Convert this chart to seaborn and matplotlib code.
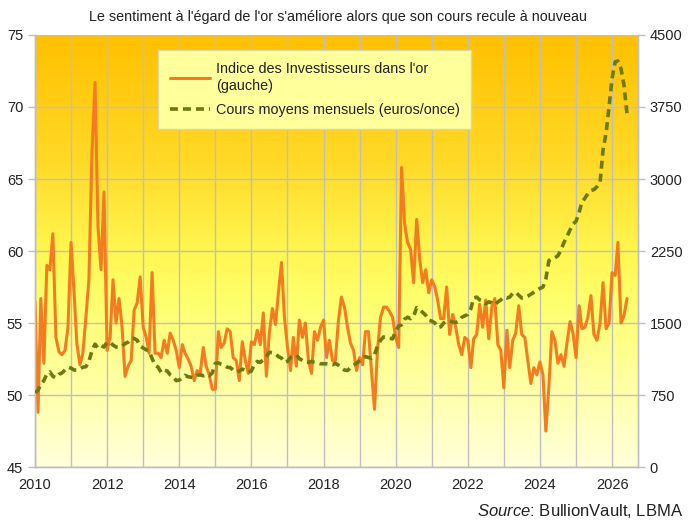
"""
Indice des investisseurs dans l'or vs cours moyen mensuel (EUR/oz), 2010-2026.
"""
import matplotlib
matplotlib.use('Agg')
import matplotlib.pyplot as plt
import matplotlib.dates as mdates
from matplotlib.colors import LinearSegmentedColormap
import numpy as np
import pandas as pd
import seaborn as sns

title = "Le sentiment à l'égard de l'or s'améliore alors que son cours recule à nouveau"
label_index = "Indice des Investisseurs dans l'or\n(gauche)"
label_price = "Cours moyens mensuels (euros/once)"
source = r"$\mathit{Source}$: BullionVault, LBMA"

start_month = '2010-01-01'

# indice mensuel (axe gauche)
sentiment = [
	56.5, 48.8, 56.7, 52.2, 59.0, 58.7, 61.2, 54.0, 53.0, 52.8, 53.1, 54.7,
	60.6, 57.1, 53.6, 52.1, 52.9, 55.4, 58.0, 66.8, 71.7, 61.7, 58.7, 64.1,
	53.1, 54.0, 58.0, 55.0, 56.7, 54.7, 51.3, 52.0, 52.4, 55.9, 56.4, 58.2,
	54.7, 54.0, 52.9, 58.5, 52.9, 52.9, 52.6, 53.8, 52.9, 54.3, 53.8, 53.1,
	51.9, 53.5, 52.9, 52.5, 52.0, 51.0, 51.7, 51.5, 53.3, 52.0, 51.4, 50.4,
	50.4, 54.4, 53.3, 53.6, 54.6, 54.4, 52.6, 52.4, 51.0, 53.7, 52.4, 51.5,
	53.7, 53.5, 54.5, 53.5, 55.7, 51.3, 54.3, 56.0, 54.9, 57.1, 59.2, 55.4,
	53.3, 51.7, 54.0, 52.0, 55.2, 54.0, 55.0, 52.4, 51.5, 54.4, 53.8, 54.7,
	55.2, 52.6, 53.8, 52.4, 52.4, 55.2, 56.8, 56.1, 54.7, 53.6, 53.1, 51.7,
	52.6, 52.1, 54.4, 54.4, 51.7, 49.0, 53.1, 55.4, 56.1, 56.1, 55.8, 55.4,
	54.0, 53.3, 65.8, 61.9, 60.6, 60.1, 57.8, 62.2, 59.4, 57.8, 58.7, 57.1,
	58.0, 57.5, 56.6, 55.3, 55.3, 57.5, 54.2, 55.6, 54.7, 53.5, 52.8, 54.0,
	53.8, 51.9, 53.9, 54.2, 56.3, 54.7, 56.6, 53.9, 56.1, 56.7, 53.5, 53.1,
	50.5, 54.5, 51.9, 53.8, 54.3, 56.2, 54.2, 54.0, 52.4, 50.8, 51.9, 51.4,
	52.3, 51.4, 47.5, 50.6, 54.4, 53.8, 52.2, 52.8, 52.0, 53.6, 55.1, 54.3,
	52.6, 56.2, 54.6, 54.7, 55.4, 56.9, 54.2, 53.8, 55.0, 57.8, 54.6, 55.0,
	58.5, 58.3, 60.6, 55.0, 55.5, 56.7,
]

# cours moyen mensuel en euros/once (axe droit)
gold_eur = [
	775, 800, 860, 900, 970, 990, 945, 930, 965, 980, 1010, 1040,
	1030, 1010, 1010, 1020, 1040, 1045, 1100, 1210, 1280, 1240, 1265, 1250,
	1300, 1300, 1270, 1250, 1245, 1260, 1285, 1300, 1340, 1340, 1320, 1260,
	1240, 1220, 1210, 1130, 1060, 1040, 985, 1010, 1000, 960, 940, 900,
	905, 930, 955, 940, 935, 930, 955, 960, 950, 960, 950, 980,
	1080, 1085, 1070, 1060, 1040, 1035, 1010, 990, 1000, 1020, 1010, 985,
	1000, 1070, 1100, 1090, 1120, 1150, 1195, 1190, 1180, 1150, 1135, 1090,
	1100, 1140, 1150, 1165, 1130, 1110, 1090, 1090, 1100, 1090, 1085, 1075,
	1075, 1075, 1070, 1065, 1080, 1060, 1030, 1010, 1005, 1035, 1060, 1080,
	1110, 1140, 1150, 1140, 1135, 1170, 1260, 1320, 1355, 1350, 1340, 1335,
	1410, 1470, 1480, 1540, 1560, 1545, 1570, 1660, 1640, 1610, 1580, 1530,
	1520, 1500, 1455, 1460, 1500, 1520, 1520, 1510, 1505, 1520, 1560, 1575,
	1590, 1650, 1760, 1770, 1740, 1730, 1700, 1720, 1710, 1690, 1720, 1740,
	1770, 1760, 1770, 1810, 1820, 1790, 1760, 1765, 1780, 1800, 1820, 1840,
	1860, 1875, 1960, 2150, 2170, 2180, 2200, 2260, 2340, 2400, 2470, 2530,
	2560, 2650, 2760, 2800, 2850, 2880, 2890, 2920, 2960, 3300, 3480, 3750,
	4050, 4220, 4230, 4150, 3980, 3680,
]

left_ticks = [45, 50, 55, 60, 65, 70, 75]
right_ticks = [0, 750, 1500, 2250, 3000, 3750, 4500]

months = pd.date_range(start_month, periods=len(sentiment), freq='MS')
df = pd.DataFrame({'date': months, 'indice': sentiment, 'cours': gold_eur})

sns.set_theme(style='white')
plt.rcParams['font.family'] = ['Liberation Sans', 'DejaVu Sans']
plt.rcParams['mathtext.fontset'] = 'custom'
plt.rcParams['mathtext.rm'] = 'Liberation Sans'
plt.rcParams['mathtext.it'] = 'Liberation Sans:italic'

orange = '#F47B20'
olive = '#6B7B10'
grey = '#BFBFBF'
txt = '#222222'

fig = plt.figure(figsize=(6.9, 5.2), dpi=100)
ax = fig.add_axes([0.0507, 0.1019, 0.8739, 0.8308])

# fond en dégradé or -> jaune pâle
bg = LinearSegmentedColormap.from_list('bg', [
	(0.0, '#FFC000'), (0.3, '#FFDA28'), (0.5, '#FFF650'),
	(0.62, '#FFFF6E'), (1.0, '#FFFFDC')])
ax.imshow(np.linspace(0, 1, 256).reshape(-1, 1), cmap=bg, aspect='auto',
	extent=[0, 1, 0, 1], transform=ax.transAxes, zorder=0)

sns.lineplot(data=df, x='date', y='indice', ax=ax, color=orange,
	linewidth=2.2, label=label_index, zorder=3)

ax.set_xlim(pd.Timestamp('2010-01-01'), pd.Timestamp('2026-09-20'))
ax.set_ylim(45, 75)
ax.set_yticks(left_ticks)
ax.xaxis.set_major_locator(mdates.YearLocator(2))
ax.xaxis.set_major_formatter(mdates.DateFormatter('%Y'))
ax.xaxis.set_minor_locator(mdates.YearLocator(1))
ax.grid(True, which='both', color=grey, linewidth=1.0, zorder=1)
ax.set_axisbelow(True)
ax.set_xlabel('')
ax.set_ylabel('')
ax.tick_params(axis='both', which='major', labelsize=10.5, colors=grey,
	labelcolor=txt, length=5, width=1, direction='out')
ax.tick_params(axis='x', which='minor', length=0)
ax.tick_params(axis='x', pad=3)

ax2 = ax.twinx()
sns.lineplot(data=df, x='date', y='cours', ax=ax2, color=olive,
	linewidth=2.6, label=label_price, zorder=4)
ax2.lines[0].set_dashes((2.2, 1.4))
ax2.set_ylim(0, 4500)
ax2.set_yticks(right_ticks)
ax2.set_ylabel('')
ax2.tick_params(axis='y', labelsize=10.5, colors=grey, labelcolor=txt,
	length=5, width=1, direction='out')

for a in (ax, ax2):
	for side, sp in a.spines.items():
		sp.set_color(grey)
		sp.set_linewidth(1.0)
	a.spines['top'].set_visible(False)
	if a.get_legend() is not None:
		a.get_legend().remove()

h1, l1 = ax.get_legend_handles_labels()
h2, l2 = ax2.get_legend_handles_labels()
leg = ax2.legend(h1 + h2, l1 + l2, loc='upper left',
	bbox_to_anchor=(0.204, 0.965), borderaxespad=0, frameon=True,
	fancybox=False, facecolor='#FFFF9C', edgecolor='#D8D8A8', framealpha=1,
	fontsize=10.4, handlelength=2.8, handletextpad=0.4,
	borderpad=0.8, labelspacing=0.7)
leg.get_frame().set_linewidth(1.0)
for t in leg.get_texts():
	t.set_color(txt)
	t.set_linespacing(1.3)

fig.text(0.49, 0.967, title, ha='center', va='center', fontsize=10.4, color=txt)
fig.text(0.99, 0.018, source, ha='right', va='center', fontsize=12, color=txt)

fig.savefig('out.png', dpi=100)
